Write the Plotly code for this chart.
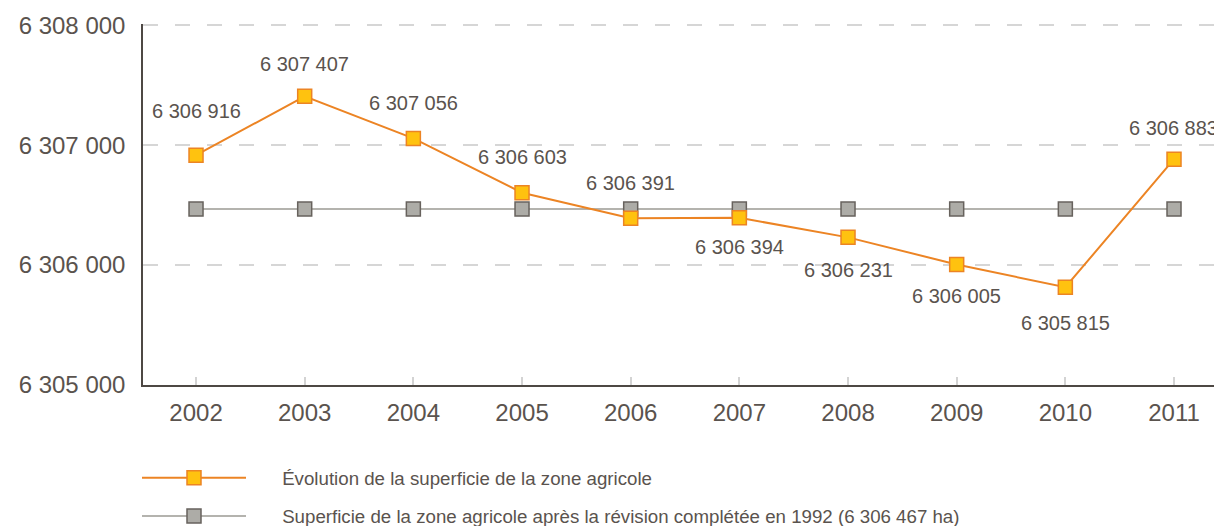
import plotly.graph_objects as go

years = ["2002", "2003", "2004", "2005", "2006", "2007", "2008", "2009", "2010", "2011"]
evolution = [6306916, 6307407, 6307056, 6306603, 6306391, 6306394, 6306231, 6306005, 6305815, 6306883]
reference = [6306467] * 10
y_ticks = [6305000, 6306000, 6307000, 6308000]

name_evo = "Évolution de la superficie de la zone agricole"
name_ref = "Superficie de la zone agricole après la révision complétée en 1992 (6 306 467 ha)"

# label placement (style): pixel offset of each value label
label_shift = [44, 32, 35, 36, 35, -29, -33, -32, -36, 31]
label_xshift = [0, 0, 0, 0, 0, 0, 0, 0, 0, -1]

TXT = "#5a534e"
FONT = "Liberation Sans, Arial, sans-serif"


def fmt(v):
    return f"{v:,}".replace(",", " ")


pad = "\u00a0" * 6

fig = go.Figure()
fig.add_trace(go.Scatter(
    x=years, y=reference, mode="lines+markers", name=pad + name_ref,
    line=dict(color="#B4B3AE", width=2),
    marker=dict(symbol="square", size=14, color="#ADACA7",
                line=dict(color="#67625D", width=1.5)),
    legendgroup="b", legendrank=2, cliponaxis=False,
))
fig.add_trace(go.Scatter(
    x=years, y=evolution, mode="lines+markers", name=pad + name_evo,
    line=dict(color="#EC8424", width=2),
    marker=dict(symbol="square", size=14, color="#FFC20F",
                line=dict(color="#EC8424", width=1.5)),
    legendgroup="a", legendrank=1, cliponaxis=False,
))

for i, (v, s, xs) in enumerate(zip(evolution, label_shift, label_xshift)):
    fig.add_annotation(x=i, y=v, xref="x", yref="y", text=fmt(v),
                       showarrow=False, yshift=s, xshift=xs,
                       font=dict(family=FONT, size=20, color=TXT))

fig.update_layout(
    width=1214, height=526,
    margin=dict(l=143, r=0, t=24, b=141, autoexpand=False),
    plot_bgcolor="white", paper_bgcolor="white",
    showlegend=True,
    legend=dict(
        x=-0.0056, xanchor="left", y=-0.205, yanchor="top",
        orientation="v", traceorder="grouped",
        itemwidth=104, tracegroupgap=11,
        font=dict(family=FONT, size=18.7, color=TXT),
        bgcolor="rgba(0,0,0,0)",
    ),
    font=dict(family=FONT, color=TXT),
)
fig.update_xaxes(
    type="category", range=[-0.488, 9.368],
    showline=True, linecolor="#4d4844", linewidth=1.5,
    ticks="inside", ticklen=8, tickwidth=2, tickcolor="#d3d3d3",
    showgrid=False, tickfont=dict(family=FONT, size=24, color=TXT),
    ticklabelstandoff=5,
)
fig.update_yaxes(
    range=[6305000, 6308010], tickvals=y_ticks,
    ticktext=[fmt(v) for v in y_ticks],
    showline=True, linecolor="#4d4844", linewidth=1.5,
    showgrid=True, gridcolor="#d6d6d6", gridwidth=1.5, griddash="15px,17px",
    zeroline=False, ticks="",
    tickfont=dict(family=FONT, size=24, color=TXT),
    ticklabelstandoff=11,
)

fig.write_html(
    "out.html",
    config={"displayModeBar": False},
    post_script="document.body.style.margin='0';"
                "document.documentElement.style.overflow='hidden';",
)
